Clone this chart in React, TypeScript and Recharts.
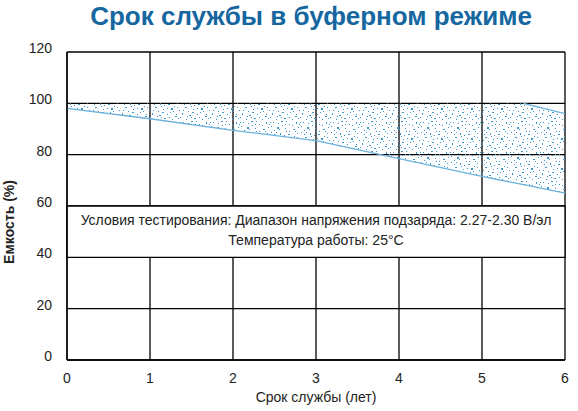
import React from 'react';
import {
  ComposedChart,
  Area,
  Line,
  XAxis,
  YAxis,
  CartesianGrid,
  ReferenceArea,
  Label,
} from 'recharts';

// years of service (x) and capacity band (%)
const years = [0, 1, 2, 3, 4, 5, 5.5, 6];
const lowerCapacity = [98, 94, 89.5, 85.5, 78.5, 71.5, 68.3, 65];
const upperCapacity = [100, 100, 100, 100, 100, 100, 100, 96];
// the upper boundary is only drawn where it leaves the 100% grid line
const upperEdge = [null, null, null, null, null, null, 100, 96];

const xTicks = [0, 1, 2, 3, 4, 5, 6];
const yTicks = [0, 20, 40, 60, 80, 100, 120];

const TITLE = 'Срок службы в буферном режиме';
const X_TITLE = 'Срок службы (лет)';
const Y_TITLE = 'Емкость (%)';
const NOTE_1 = 'Условия тестирования: Диапазон напряжения подзаряда: 2.27-2.30 В/эл';
const NOTE_2 = 'Температура работы: 25°C';

const FONT = '"Liberation Sans", Arial, sans-serif';
const BLUE_LINE = '#6cb2dc';
const BLUE_DOT = '#3f98cc';

// stipple tile for the band fill
const DOTS: [number, number, number, number][] = [
  [3, 2, 1, 1], [11, 1, 2, 1], [19, 4, 1, 1], [26, 2, 1, 2], [7, 7, 2, 2], [15, 8, 1, 1],
  [23, 9, 2, 1], [1, 12, 1, 1], [10, 13, 1, 2], [18, 14, 2, 1], [27, 13, 1, 1], [5, 17, 2, 1],
  [13, 19, 1, 1], [21, 18, 2, 2], [29, 20, 1, 1], [2, 23, 1, 2], [9, 25, 2, 1], [17, 24, 1, 1],
  [25, 26, 2, 1], [6, 29, 1, 1], [14, 28, 2, 1], [22, 29, 1, 1], [12, 5, 1, 1], [28, 7, 1, 1],
  [4, 10, 1, 1], [20, 22, 1, 1], [16, 1, 1, 1], [24, 16, 1, 1], [8, 21, 1, 1], [0, 27, 1, 1],
  [19, 11, 1, 1], [26, 24, 1, 1], [14, 15, 1, 1], [29, 4, 1, 1], [1, 6, 1, 1], [11, 27, 1, 1],
  [8, 3, 1, 1], [22, 5, 1, 1], [4, 14, 1, 1], [16, 11, 1, 1], [25, 11, 1, 1], [12, 22, 2, 1],
  [27, 17, 1, 1], [7, 26, 1, 1], [19, 27, 1, 1], [3, 20, 1, 1], [23, 21, 1, 1], [15, 4, 1, 1],
  [9, 9, 1, 1], [28, 28, 1, 1], [0, 2, 1, 1], [17, 18, 1, 1], [11, 16, 1, 1], [6, 12, 1, 1],
];

const data = years.map((y, i) => ({
  year: y,
  band: [lowerCapacity[i], upperCapacity[i]],
  lower: lowerCapacity[i],
  edge: upperEdge[i],
}));

const YTick = ({ x, y, payload }: any) => (
  <text x={x} y={y + 1} textAnchor="end" fontSize={14} fontFamily={FONT} fill="#222">
    {payload.value}
  </text>
);

const XTick = ({ x, y, payload }: any) => (
  <text x={x} y={y} dy="0.71em" textAnchor="middle" fontSize={14} fontFamily={FONT} fill="#222">
    {payload.value}
  </text>
);

const Note = ({ viewBox }: any) => {
  const cx = viewBox.x + viewBox.width / 2;
  return (
    <g fontFamily={FONT} fontSize={14} fill="#222" textAnchor="middle">
      <text x={cx} y={viewBox.y + 19}>{NOTE_1}</text>
      <text x={cx} y={viewBox.y + 39}>{NOTE_2}</text>
    </g>
  );
};

export default function App() {
  return (
    <div style={{ position: 'absolute', left: 0, top: 0, width: 578, height: 411, background: '#fff' }}>
      <div
        style={{
          position: 'absolute',
          left: 0,
          top: 0,
          width: 622,
          lineHeight: '32px',
          textAlign: 'center',
          fontFamily: FONT,
          fontWeight: 'bold',
          fontSize: 26,
          color: '#16679f',
        }}
      >
        {TITLE}
      </div>
      <ComposedChart
        width={578}
        height={411}
        data={data}
        margin={{ top: 52, right: 13, bottom: 0, left: 0 }}
      >
        <defs>
          <pattern id="stipple" width={30} height={30} patternUnits="userSpaceOnUse">
            {DOTS.map(([x, y, w, h], i) => (
              <rect key={i} x={x} y={y} width={w} height={h} fill={BLUE_DOT} />
            ))}
          </pattern>
        </defs>
        <CartesianGrid stroke="#000" strokeWidth={1.3} horizontalValues={yTicks} verticalValues={xTicks} />
        <XAxis
          dataKey="year"
          type="number"
          domain={[0, 6]}
          ticks={xTicks}
          height={51}
          axisLine={{ stroke: '#000', strokeWidth: 1.3 }}
          tickLine={false}
          tickSize={6}
          tickMargin={7}
          tick={<XTick />}
        >
          <Label
            content={({ viewBox }: any) => (
              <text
                x={viewBox.x + viewBox.width / 2}
                y={402}
                textAnchor="middle"
                fontSize={14}
                fontFamily={FONT}
                fill="#222"
              >
                {X_TITLE}
              </text>
            )}
          />
        </XAxis>
        <YAxis
          type="number"
          domain={[0, 120]}
          ticks={yTicks}
          width={67}
          axisLine={{ stroke: '#000', strokeWidth: 1.3 }}
          tickLine={false}
          tickSize={6}
          tickMargin={9}
          tick={<YTick />}
        >
          <Label
            content={() => (
              <text
                x={14}
                y={222}
                transform="rotate(-90, 14, 222)"
                textAnchor="middle"
                fontSize={14}
                fontWeight="bold"
                fontFamily={FONT}
                fill="#222"
              >
                {Y_TITLE}
              </text>
            )}
          />
        </YAxis>
        <Area
          dataKey="band"
          stroke="none"
          fill="url(#stipple)"
          fillOpacity={1}
          isAnimationActive={false}
        />
        <Line dataKey="lower" stroke={BLUE_LINE} strokeWidth={1.3} dot={false} isAnimationActive={false} />
        <Line dataKey="edge" stroke={BLUE_LINE} strokeWidth={1.3} dot={false} isAnimationActive={false} />
        <ReferenceArea
          x1={0}
          x2={6}
          y1={40}
          y2={60}
          fill="#fff"
          fillOpacity={1}
          stroke="#000"
          strokeWidth={1.3}
          label={<Note />}
        />
      </ComposedChart>
    </div>
  );
}
